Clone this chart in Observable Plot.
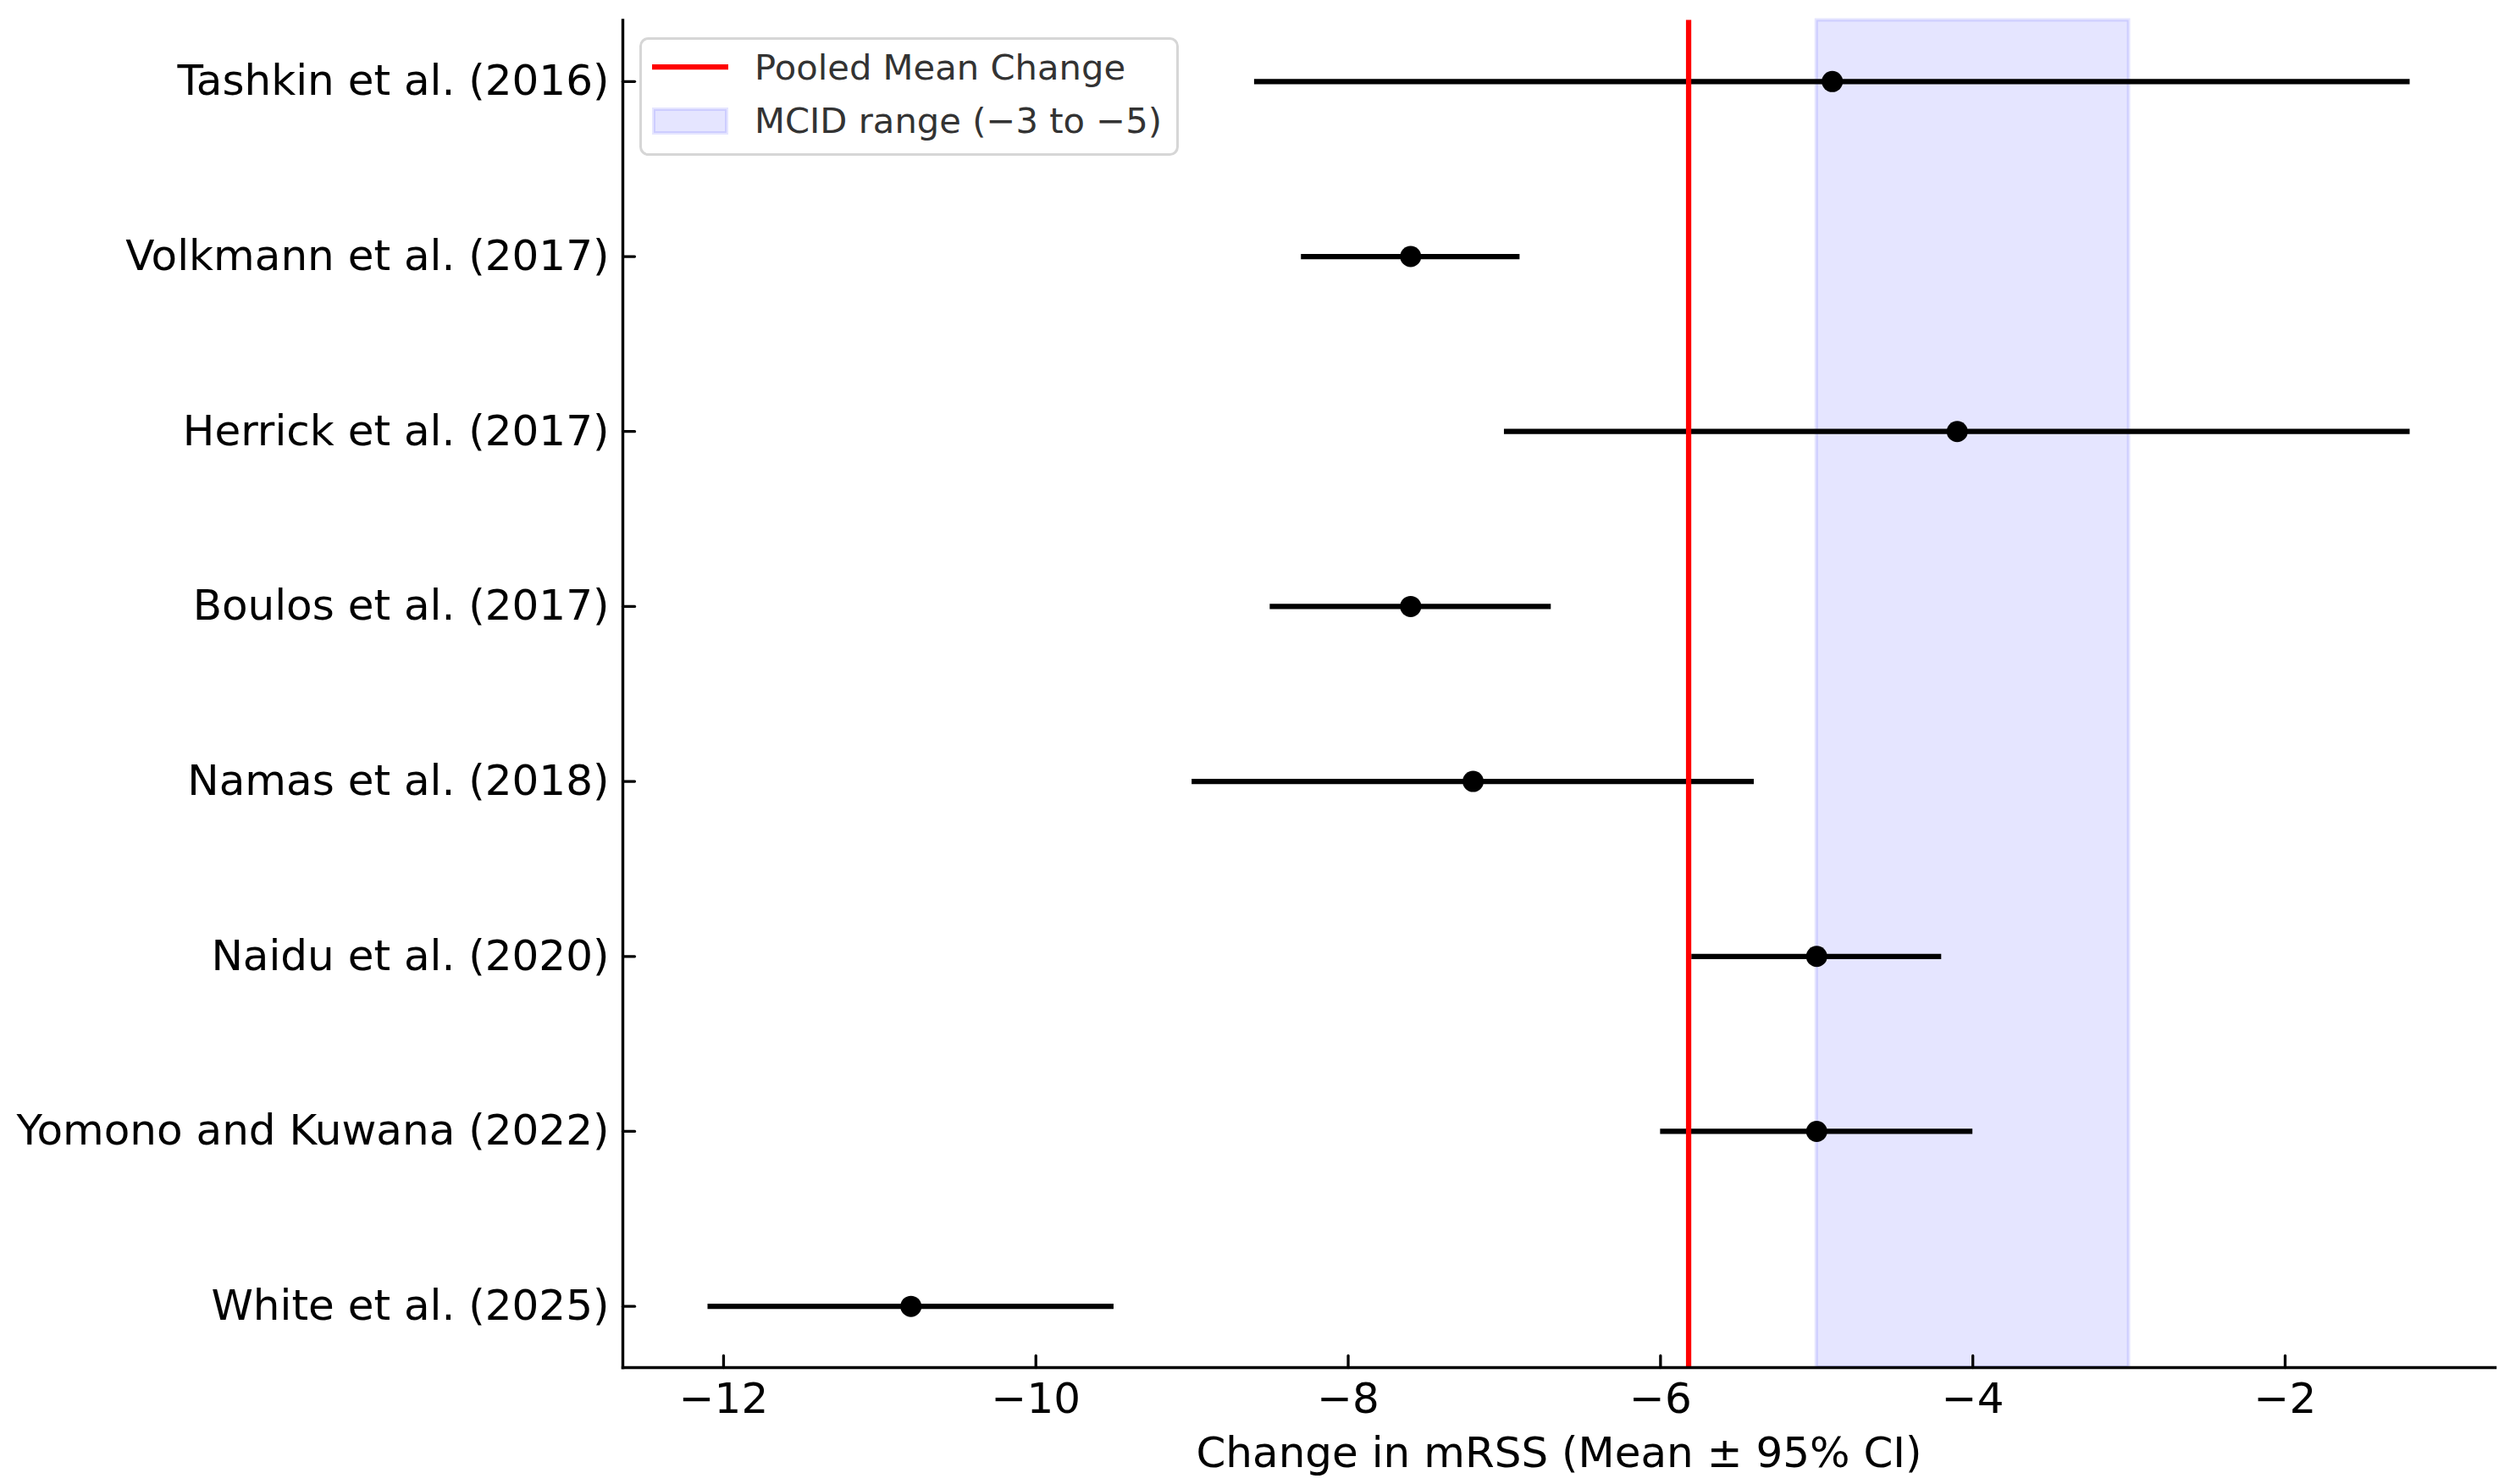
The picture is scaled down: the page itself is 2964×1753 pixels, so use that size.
<!DOCTYPE html>
<html>
<head>
<meta charset="utf-8">
<script src="https://cdn.jsdelivr.net/npm/d3@7"></script>
<script src="https://cdn.jsdelivr.net/npm/@observablehq/plot@0.6"></script>
<style>
  html, body { margin: 0; padding: 0; background: #fff; }
  #chart { width: 2964px; height: 1753px; }
</style>
</head>
<body>
<div id="chart"></div>
<script>
const studies = [
  "Tashkin et al. (2016)",
  "Volkmann et al. (2017)",
  "Herrick et al. (2017)",
  "Boulos et al. (2017)",
  "Namas et al. (2018)",
  "Naidu et al. (2020)",
  "Yomono and Kuwana (2022)",
  "White et al. (2025)"
];
const means = [-4.9, -7.6, -4.1, -7.6, -7.2, -5.0, -5.0, -10.8];
const lower = [-8.6, -8.3, -7.0, -8.5, -9.0, -5.8, -6.0, -12.1];
const upper = [-1.2, -6.9, -1.2, -6.7, -5.4, -4.2, -4.0, -9.5];
const pooledMean = -5.82;
const mcidRange = [-5, -3];
const xTicks = [-12, -10, -8, -6, -4, -2];
const xLabel = "Change in mRSS (Mean ± 95% CI)";
const legendLabels = ["Pooled Mean Change", "MCID range (\u22123 to \u22125)"];

const rows = studies.map((s, i) => ({study: s, mean: means[i], lo: lower[i], hi: upper[i]}));
const span = d3.max(upper) - d3.min(lower);
const xDomain = [d3.min(lower) - 0.05 * span, d3.max(upper) + 0.05 * span];

const tickShape = {draw(ctx, l) { ctx.moveTo(0, 0); ctx.lineTo(0, -l); }};

const chart = Plot.plot({
  width: 2964,
  height: 1753,
  marginLeft: 735,
  marginRight: 18,
  marginTop: 23.5,
  marginBottom: 138,
  style: {fontFamily: "'DejaVu Sans', sans-serif", fontSize: "50px", color: "black", background: "white"},
  x: {domain: xDomain, ticks: xTicks},
  y: {type: "point", domain: studies, padding: 0.35, round: false},
  marks: [
    Plot.rect([{x1: mcidRange[0], x2: mcidRange[1]}], {x1: "x1", x2: "x2", fill: "blue", fillOpacity: 0.1, stroke: "blue", strokeOpacity: 0.1, strokeWidth: 4}),
    Plot.ruleY(rows, {y: "study", x1: "lo", x2: "hi", stroke: "black", strokeWidth: 6.25}),
    Plot.dot(rows, {x: "mean", y: "study", r: 12.5, fill: "black", stroke: "none"}),
    Plot.ruleX([pooledMean], {stroke: "#ff0000", strokeWidth: 6.25}),
    Plot.frame({anchor: "left", stroke: "black", strokeWidth: 3.4}),
    Plot.frame({anchor: "bottom", stroke: "black", strokeWidth: 3.4}),
    Plot.vector(xTicks, {x: d => d, frameAnchor: "bottom", anchor: "start", length: 14, rotate: 0, shape: tickShape, stroke: "black", strokeWidth: 3.3}),
    Plot.vector(studies, {y: d => d, frameAnchor: "left", anchor: "start", length: 14, rotate: 90, shape: tickShape, stroke: "black", strokeWidth: 3.3}),
    Plot.axisX(xTicks, {tickSize: 0, tickPadding: 17.5, fontSize: 50, label: null, tickFormat: d3.format("d")}),
    Plot.axisY({tickSize: 0, tickPadding: 16, fontSize: 50, label: null}),
    Plot.text([xLabel], {text: d => d, frameAnchor: "bottom", lineAnchor: "middle", dy: 101, fontSize: 50, fill: "black"})
  ]
});

document.getElementById("chart").appendChild(chart);

// Legend (inside the plot area, upper-left)
const svg = d3.select(chart);
const lg = svg.append("g").attr("font-family", "'DejaVu Sans', sans-serif").attr("text-anchor", "start");
lg.append("rect").attr("x", 756.5).attr("y", 45.5).attr("width", 634).attr("height", 137)
  .attr("rx", 9).attr("fill", "white").attr("fill-opacity", 0.8)
  .attr("stroke", "#d6d6d6").attr("stroke-width", 3);
lg.append("line").attr("x1", 770).attr("x2", 860).attr("y1", 79).attr("y2", 79)
  .attr("stroke", "#ff0000").attr("stroke-width", 6.25);
lg.append("rect").attr("x", 772).attr("y", 129).attr("width", 86).attr("height", 28)
  .attr("fill", "blue").attr("fill-opacity", 0.1).attr("stroke", "blue").attr("stroke-opacity", 0.1).attr("stroke-width", 4);
lg.append("text").attr("x", 891).attr("y", 94).attr("font-size", 41.7).attr("fill", "#333").attr("text-anchor", "start").text(legendLabels[0]);
lg.append("text").attr("x", 891).attr("y", 157).attr("font-size", 41.7).attr("fill", "#333").attr("text-anchor", "start").text(legendLabels[1]);
</script>
</body>
</html>
